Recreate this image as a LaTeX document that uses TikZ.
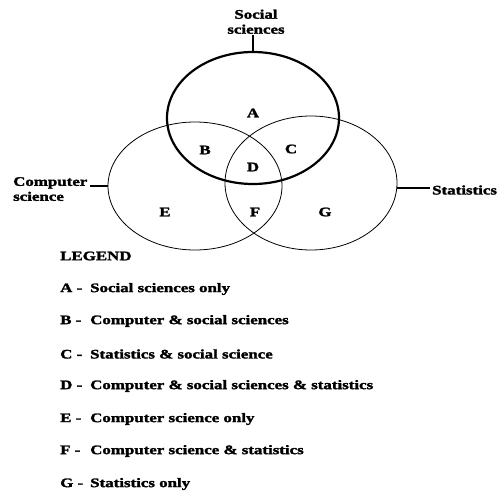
\documentclass[tikz,border=0pt]{standalone}
\usepackage{fontspec}
\setmainfont{Liberation Serif}[FakeStretch=1.3,FakeBold=2]
\begin{document}
\begin{tikzpicture}[x=1pt,y=-1pt,
  lbl/.style={font=\bfseries\fontsize{13}{15}\selectfont, inner sep=0pt},
  setname/.style={lbl, align=left},
  region/.style={lbl},
  legrow/.style={lbl, anchor=west},
  thickset/.style={draw, line width=2.2pt},
  thinset/.style={draw, line width=0.8pt},
  tick/.style={line width=1.3pt}]
\useasboundingbox (0,0) rectangle (499,493);
% sets
\draw[thinset] (195,186) ellipse [x radius=87, y radius=64];
\draw[thinset] (311,183) ellipse [x radius=86, y radius=67];
\draw[thickset] (253,118) ellipse [x radius=86, y radius=66];
% anchor coordinates on the ellipses
\coordinate (sstop) at (253,52);
\coordinate (csleft) at (108,186);
\coordinate (stright) at (397,188);
% set labels
\node[setname, align=center, anchor=south] (ss) at (256,34) {Social\\sciences};
\node[setname, anchor=north west] (cs) at (13,177) {Computer\\science};
\node[lbl, anchor=west] (st) at (432,190) {Statistics};
\coordinate (sstick) at (253,35);
\coordinate (cstick) at (90,186);
\coordinate (sttick) at (430,188);
\draw[tick] (sstop) -- (sstick);
\draw[tick] (csleft) -- (cstick);
\draw[tick] (stright) -- (sttick);
% region letters
\node[region] (A) at (253,113) {A};
\node[region] (B) at (205,150) {B};
\node[region] (C) at (291,149) {C};
\node[region] (D) at (253,167) {D};
\node[region] (E) at (165,212) {E};
\node[region] (F) at (255,212) {F};
\node[region] (G) at (325,212) {G};
% legend
\node[legrow] (leg) at (60,256) {LEGEND};
\node[legrow] (lA) at (60,289) {\makebox[30pt][l]{A -}Social sciences only};
\node[legrow] (lB) at (60,321) {\makebox[30pt][l]{B -}Computer \& social sciences};
\node[legrow] (lC) at (60,354) {\makebox[30pt][l]{C -}Statistics \& social science};
\node[legrow] (lD) at (60,386) {\makebox[30pt][l]{D -}Computer \& social sciences \& statistics};
\node[legrow] (lE) at (60,419) {\makebox[30pt][l]{E -}Computer science only};
\node[legrow] (lF) at (60,451) {\makebox[30pt][l]{F -}Computer science \& statistics};
\node[legrow] (lG) at (60,484) {\makebox[30pt][l]{G -}Statistics only};
\end{tikzpicture}
\end{document}
